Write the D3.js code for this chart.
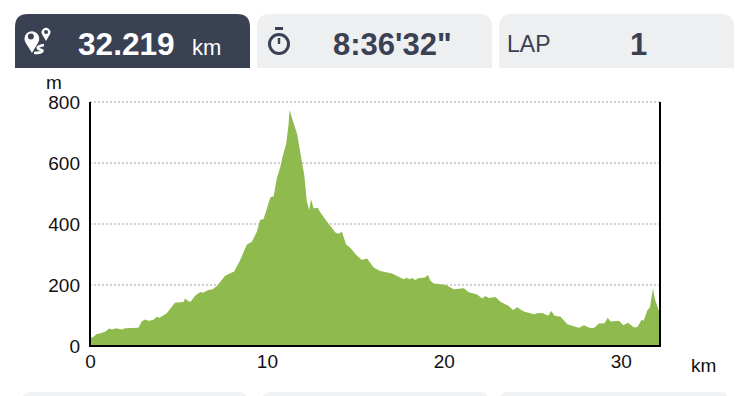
<!DOCTYPE html>
<html>
<head>
<meta charset="utf-8">
<script src="https://cdn.jsdelivr.net/npm/d3@7"></script>
<style>
  html, body { margin: 0; padding: 0; background: #fff; }
  svg { display: block; font-family: "Liberation Sans", Arial, sans-serif; }
</style>
</head>
<body>
<svg id="chart" width="745" height="396"></svg>
<script>
// Elevation profile
const distanceKm = [
  0, .13, .38, .6, .85, 1.09, 1.25, 1.47, 1.79, 1.98, 2.74, 2.92, 3.11, 3.3, 3.58, 3.77, 3.92, 4.34, 4.8, 5.28,
  5.38, 5.57, 5.7, 5.94, 6.23, 6.38, 6.7, 6.94, 7.17, 7.64, 8.0, 8.15, 8.49, 8.87, 9.15, 9.43, 9.62, 9.81, 10.0, 10.19,
  10.38, 10.56, 10.75, 10.9, 11.09, 11.22, 11.28, 11.51, 11.7, 11.88, 12.11, 12.26, 12.39, 12.49, 12.64, 12.87, 13.02, 13.39, 13.87, 14.05,
  14.24, 14.47, 14.75, 15.05, 15.37, 15.66, 16.03, 16.41, 17.07, 17.73, 17.88, 18.07, 18.2, 18.39, 18.58, 18.9, 19.11, 19.24, 19.43, 20.09,
  20.56, 21.13, 21.41, 21.88, 22.17, 22.35, 22.54, 22.92, 23.2, 23.67, 23.9, 24.15, 24.52, 25.09, 25.28, 25.56, 25.9, 26.07, 26.26, 26.6,
  26.98, 27.45, 27.64, 27.92, 28.3, 28.5, 28.77, 29.09, 29.26, 29.43, 29.9, 30.15, 30.41, 30.75, 30.94, 31.17, 31.3, 31.5, 31.65, 31.82,
  31.92, 32.01, 32.17, 32.219
];
const elevationM = [
  31, 27, 39, 42, 47, 57, 54, 58, 54, 58, 60, 80, 87, 83, 85, 96, 93, 107, 142, 144,
  156, 146, 146, 165, 177, 175, 184, 186, 197, 230, 240, 244, 282, 333, 342, 375, 413, 416, 451, 487,
  491, 550, 585, 624, 664, 725, 774, 730, 697, 637, 561, 473, 446, 482, 451, 453, 438, 408, 372, 368,
  375, 334, 320, 298, 282, 287, 257, 246, 238, 219, 224, 219, 223, 216, 223, 224, 233, 214, 205, 201,
  186, 189, 176, 169, 156, 164, 157, 161, 145, 131, 118, 127, 113, 104, 107, 108, 99, 115, 99, 96,
  71, 63, 60, 68, 58, 60, 74, 75, 93, 80, 83, 68, 76, 61, 62, 85, 84, 116, 127, 189,
  156, 140, 113, 105
];
const yTicks = [0, 200, 400, 600, 800];
const xTicks = [0, 10, 20, 30];
const totalKm = 32.219;

const svg = d3.select("#chart");
const margin = { top: 102, right: 85, bottom: 50, left: 90 };
const width = 745, height = 396;

const x = d3.scaleLinear().domain([0, totalKm]).range([margin.left, width - margin.right]);
const y = d3.scaleLinear().domain([0, 800]).range([height - margin.bottom, margin.top]);

const points = distanceKm.map((d, i) => ({ km: d, m: elevationM[i] }));

// Rounded-top tab path
function tab(px, py, w, h, r) {
  return `M${px},${py + h}V${py + r}Q${px},${py} ${px + r},${py}H${px + w - r}Q${px + w},${py} ${px + w},${py + r}V${py + h}Z`;
}

// Tabs at the top and the row peeking in at the bottom
svg.append("path").attr("d", tab(15, 14, 235, 54, 13)).attr("fill", "#3a4152");
svg.append("path").attr("d", tab(257, 14, 235, 54, 13)).attr("fill", "#eeeff1");
svg.append("path").attr("d", tab(499, 14, 235, 54, 13)).attr("fill", "#eeeff1");
[[22, 225], [262, 226], [500, 228]].forEach(b => {
  svg.append("path").attr("d", tab(b[0], 392, b[1], 10, 8)).attr("fill", "#f1f2f3");
});

// Tab texts
svg.append("text").attr("x", 78).attr("y", 55).attr("fill", "#fff")
  .attr("font-size", 31.6).attr("font-weight", "bold").text("32.219");
svg.append("text").attr("x", 192).attr("y", 55).attr("fill", "#fff")
  .attr("font-size", 22).text("km");
svg.append("text").attr("x", 333).attr("y", 55).attr("fill", "#3a4152")
  .attr("font-size", 31).attr("font-weight", "bold").text("8:36'32\"");
svg.append("text").attr("x", 507).attr("y", 52).attr("fill", "#3a4152")
  .attr("font-size", 23).text("LAP");
svg.append("text").attr("x", 630).attr("y", 55).attr("fill", "#3a4152")
  .attr("font-size", 31).attr("font-weight", "bold").text("1");

// Route icon: big pin, small pin, winding road
svg.append("path").attr("fill", "#fff").attr("fill-rule", "evenodd")
  .attr("d", "M32,53L25.5,42.5A7.4,7.4 0 1 1 38.2,42.5ZM30.8,33.5A3,3 0 1 0 30.9,39.5A3,3 0 1 0 30.8,33.5Z");
svg.append("path").attr("fill", "#fff").attr("fill-rule", "evenodd")
  .attr("d", "M46,41L42.2,34.5A4.4,4.4 0 1 1 49.8,34.5ZM46,30A2,2 0 1 0 46.1,34A2,2 0 1 0 46,30Z");
svg.append("path").attr("fill", "none").attr("stroke", "#fff").attr("stroke-width", 2.6)
  .attr("d", "M44,45C39,46 37,47 38,48.5C39,50 44,49.5 42,51.5C40.5,53 37,53 34,53");

// Stopwatch icon
const watch = svg.append("g").attr("fill", "none").attr("stroke", "#3a4152");
watch.append("circle").attr("cx", 279).attr("cy", 44).attr("r", 9.5).attr("stroke-width", 3);
watch.append("path").attr("stroke-width", 3).attr("d", "M275,28.5H283");
watch.append("path").attr("stroke-width", 2.4).attr("d", "M279,38V44");

// Dotted grid lines
svg.append("g").selectAll("line")
  .data(yTicks.filter(d => d > 0))
  .enter()
  .append("line")
    .attr("x1", margin.left)
    .attr("x2", width - margin.right)
    .attr("y1", d => y(d))
    .attr("y2", d => y(d))
    .attr("stroke", "#c2c2c2")
    .attr("stroke-width", 1.5)
    .attr("stroke-dasharray", "2 2");

// Elevation area
const area = d3.area()
  .x(d => x(d.km))
  .y0(y(0))
  .y1(d => y(d.m));

svg.append("path")
  .datum(points)
  .attr("fill", "#8fba4d")
  .attr("d", area);

// Frame: left, right, bottom
svg.append("path")
  .attr("fill", "none")
  .attr("stroke", "#000")
  .attr("stroke-width", 2)
  .attr("d", `M${margin.left},${margin.top}V${y(0)}H${width - margin.right}V${margin.top}`);

// Y-axis
const yAxis = svg.append("g")
  .attr("transform", `translate(${margin.left},0)`)
  .call(d3.axisLeft(y).tickValues(yTicks).tickSize(0).tickPadding(10));
yAxis.select(".domain").remove();
yAxis.selectAll("text").attr("font-size", 19).attr("font-family", "Liberation Sans").attr("fill", "#111");

// X-axis
const xAxis = svg.append("g")
  .attr("transform", `translate(0,${y(0)})`)
  .call(d3.axisBottom(x).tickValues(xTicks).tickSize(0).tickPadding(9));
xAxis.select(".domain").remove();
xAxis.selectAll("text").attr("font-size", 19).attr("font-family", "Liberation Sans").attr("fill", "#111");

// Unit labels
svg.append("text").attr("x", 46).attr("y", 89).attr("font-size", 19).attr("fill", "#111").text("m");
svg.append("text").attr("x", 691).attr("y", 372).attr("font-size", 19).attr("fill", "#111").text("km");
</script>
</body>
</html>
